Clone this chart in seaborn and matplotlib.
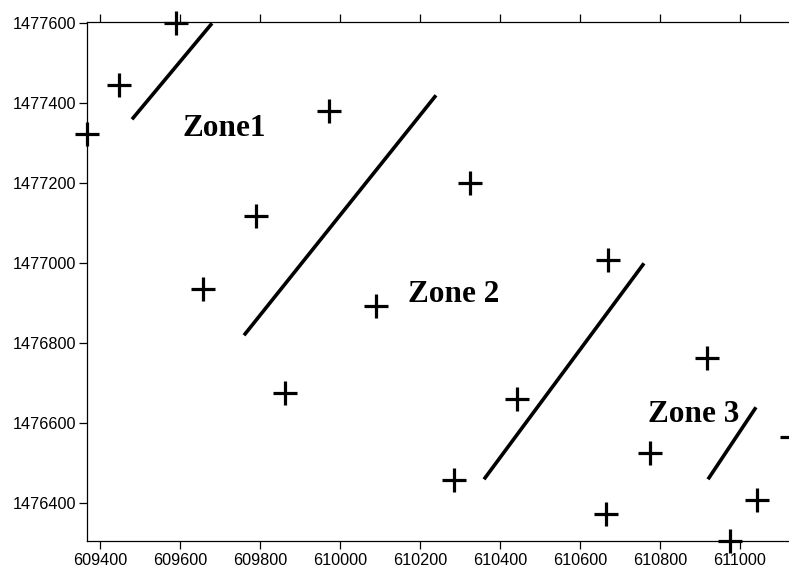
import matplotlib
matplotlib.use("Agg")
import matplotlib.pyplot as plt
import seaborn as sns
import pandas as pd

# Data: well/point locations (easting, northing)
point_x = [609590, 609447, 609368, 609972, 610325, 609789, 609657, 610089, 609862,
           610671, 610442, 610286, 610664, 610775, 610917, 611042, 610975, 611130]
point_y = [1477601, 1477446, 1477323, 1477381, 1477202, 1477118, 1476937, 1476894, 1476677,
           1477008, 1476661, 1476458, 1476373, 1476525, 1476764, 1476408, 1476306, 1476566]

# Zone boundary segments
seg_id = ["A", "A", "B", "B", "C", "C", "D", "D"]
seg_x = [609480, 609680, 609760, 610240, 610360, 610760, 610920, 611040]
seg_y = [1477360, 1477600, 1476820, 1477420, 1476460, 1477000, 1476460, 1476640]

# Zone labels
zone_labels = ["Zone1", "Zone 2", "Zone 3"]
zone_x = [609607, 610170, 610770]
zone_y = [1477318, 1476902, 1476602]

xticks = [609400, 609600, 609800, 610000, 610200, 610400, 610600, 610800, 611000]
yticks = [1476400, 1476600, 1476800, 1477000, 1477200, 1477400, 1477600]

sns.set_style("white")
plt.rcParams['font.family'] = ['Liberation Sans', 'DejaVu Sans']
plt.rcParams['text.color'] = 'black'
plt.rcParams['xtick.color'] = 'black'
plt.rcParams['ytick.color'] = 'black'

fig = plt.figure(figsize=(7.89, 5.71), dpi=100)
W, H = 789, 571
left_px, right_px, top_px, bottom_px = 87.3, 810.0, 22.3, 540.7
ax = fig.add_axes([left_px / W, (H - bottom_px) / H,
                   (right_px - left_px) / W, (bottom_px - top_px) / H])

pts = pd.DataFrame({"x": point_x, "y": point_y})
segs = pd.DataFrame({"seg": seg_id, "x": seg_x, "y": seg_y})

sns.lineplot(data=segs, x="x", y="y", units="seg", estimator=None, sort=False,
             color="black", linewidth=2.6, ax=ax, solid_capstyle="butt")
sns.scatterplot(data=pts, x="x", y="y", marker="+", s=300, linewidth=2.3,
                color="black", ax=ax, clip_on=False, zorder=5)

for lab, tx, ty in zip(zone_labels, zone_x, zone_y):
    ax.text(tx, ty, lab, ha="left", va="baseline", fontsize=22.5, color="black",
            fontweight="bold", family=["Liberation Serif", "DejaVu Serif"])

scale = 0.4
x0 = 609400 - (100 - left_px) / scale
x1 = x0 + (right_px - left_px) / scale
ytop = 1477600 + (23.3 - top_px) / scale
ybot = ytop - (bottom_px - top_px) / scale
ax.set_xlim(x0, x1)
ax.set_ylim(ybot, ytop)

ax.set_xticks(xticks)
ax.set_yticks(yticks)
ax.set_xticklabels([str(v) for v in xticks])
ax.set_yticklabels([str(v) for v in yticks])
ax.set_xlabel("")
ax.set_ylabel("")

for s in ["left", "bottom", "top", "right"]:
    ax.spines[s].set_visible(True)
    ax.spines[s].set_color("black")
    ax.spines[s].set_linewidth(0.9)

ax.tick_params(axis="x", which="both", direction="out", length=6, width=0.9,
               top=True, bottom=True, labeltop=False, labelbottom=True,
               labelsize=11.7, pad=3, color="black", labelcolor="black")
ax.tick_params(axis="y", which="both", direction="out", length=6, width=0.9,
               left=True, right=False, labelleft=True, labelsize=11.7, pad=2,
               color="black", labelcolor="black")

fig.savefig("out.png", dpi=100)
